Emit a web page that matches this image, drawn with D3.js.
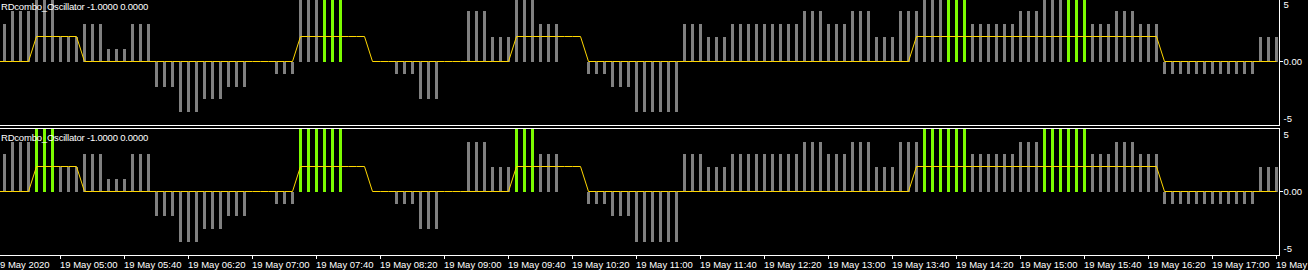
<!DOCTYPE html>
<html>
<head>
<meta charset="utf-8">
<script src="https://cdn.jsdelivr.net/npm/d3@7"></script>
<style>
  html, body { margin: 0; padding: 0; background: #000; overflow: hidden; }
  svg { display: block; }
  text { font-family: "Liberation Sans", Arial, sans-serif; fill: #ffffff; }
</style>
</head>
<body>
<svg id="chart" width="1308" height="270"></svg>
<script>
// ---------------- DATA ----------------
const indicatorName = "RDcombo_Oscillator -1.0000 0.0000";

// histogram value of each 5-minute bar (same in both windows)
const histValues = [
  3, 4, 4, 4, 5, 5, 5, 2, 2, 2,
  3, 3, 3, 1, 1, 1, 3, 3, 3, -2,
  -2, -2, -4, -4, -4, -3, -3, -3, -2, -2,
  -2, 0, 0, 0, -1, -1, -1, 5, 5, 5,
  5, 5, 5, 0, 0, 0, 0, 0, 0, -1,
  -1, -1, -3, -3, -3, 0, 0, 0, 4, 4,
  4, 2, 2, 2, 5, 5, 5, 3, 3, 3,
  0, 0, 0, -1, -1, -1, -2, -2, -2, -4,
  -4, -4, -4, -4, -4, 3, 3, 3, 2, 2,
  2, 3, 3, 3, 3, 3, 3, 3, 3, 3,
  4, 4, 4, 3, 3, 3, 4, 4, 4, 2,
  2, 2, 4, 4, 4, 5, 5, 5, 5, 5,
  5, 3, 3, 3, 3, 3, 3, 4, 4, 4,
  5, 5, 5, 5, 5, 5, 3, 3, 3, 4,
  4, 4, 3, 3, 3, -1, -1, -1, -1, -1,
  -1, -1, -1, -1, -1, -1, -1, 2, 2, 2
];

// yellow signal line value of each bar
const signalValues = [
  0, 0, 0, 0, 2, 2, 2, 2, 2, 2,
  0, 0, 0, 0, 0, 0, 0, 0, 0, 0,
  0, 0, 0, 0, 0, 0, 0, 0, 0, 0,
  0, 0, 0, 0, 0, 0, 0, 2, 2, 2,
  2, 2, 2, 2, 2, 2, 0, 0, 0, 0,
  0, 0, 0, 0, 0, 0, 0, 0, 0, 0,
  0, 0, 0, 0, 2, 2, 2, 2, 2, 2,
  2, 2, 2, 0, 0, 0, 0, 0, 0, 0,
  0, 0, 0, 0, 0, 0, 0, 0, 0, 0,
  0, 0, 0, 0, 0, 0, 0, 0, 0, 0,
  0, 0, 0, 0, 0, 0, 0, 0, 0, 0,
  0, 0, 0, 0, 2, 2, 2, 2, 2, 2,
  2, 2, 2, 2, 2, 2, 2, 2, 2, 2,
  2, 2, 2, 2, 2, 2, 2, 2, 2, 2,
  2, 2, 2, 2, 2, 0, 0, 0, 0, 0,
  0, 0, 0, 0, 0, 0, 0, 0, 0, 0
];

// bars drawn in green in each window
const topGreenBars = [40, 41, 42, 118, 119, 120, 133, 134, 135];
const bottomGreenBars = [4, 5, 6, 37, 38, 39, 40, 41, 42, 64, 65, 66,
  115, 116, 117, 118, 119, 120, 130, 131, 132, 133, 134, 135];

// y scale labels
const yTickValues = [5, 0, -5];
const yTickLabels = ["5", "0.00", "-5"];

// time axis: first (date) label as visible at the left edge, then one label every 8 bars from bar 7
const firstTimeLabel = "9 May 2020";
const timeTickBars = [7, 15, 23, 31, 39, 47, 55, 63, 71, 79, 87, 95, 103, 111, 119, 127, 135, 143, 151, 159];
const timeTickLabels = ["19 May 05:00", "19 May 05:40", "19 May 06:20", "19 May 07:00", "19 May 07:40",
  "19 May 08:20", "19 May 09:00", "19 May 09:40", "19 May 10:20", "19 May 11:00",
  "19 May 11:40", "19 May 12:20", "19 May 13:00", "19 May 13:40", "19 May 14:20",
  "19 May 15:00", "19 May 15:40", "19 May 16:20", "19 May 17:00", "19 May"];

// ---------------- LAYOUT ----------------
const W = 1308, H = 270;
const plotRight = 1280;
const GRAY = "#808080", GREEN = "#7cfc00", GOLD = "#ffd700";

const svg = d3.select("#chart");
svg.append("rect").attr("width", W).attr("height", H).attr("fill", "#000");

const x = d3.scaleBand()
  .domain(d3.range(histValues.length))
  .range([0.5, plotRight + 0.5])
  .paddingInner(0.625)
  .paddingOuter(0.3125);
const xCenter = i => x(0) + x.bandwidth() / 2 + i * x.step();

const panels = [
  { clipTop: 0, clipBottom: 125, range: [124, -1], green: topGreenBars, titleY: 10 },
  { clipTop: 128.5, clipBottom: 255, range: [254, 129], green: bottomGreenBars, titleY: 140.5 }
];

panels.forEach((p, pi) => {
  const y = d3.scaleLinear().domain([-5, 5]).range(p.range);
  const greenSet = new Set(p.green);

  const clipId = "clip" + pi;
  svg.append("clipPath").attr("id", clipId)
    .append("rect").attr("x", 0).attr("y", p.clipTop)
    .attr("width", plotRight).attr("height", p.clipBottom - p.clipTop);

  const g = svg.append("g").attr("clip-path", `url(#${clipId})`);
  const y0 = Math.round(y(0));

  g.selectAll("rect.bar")
    .data(histValues.map((v, i) => ({ v, i })).filter(d => d.v !== 0))
    .join("rect")
    .attr("class", "bar")
    .attr("x", d => x(d.i))
    .attr("width", x.bandwidth())
    .attr("y", d => Math.min(Math.round(y(d.v)), y0))
    .attr("height", d => Math.abs(y0 - Math.round(y(d.v))))
    .attr("fill", d => greenSet.has(d.i) ? GREEN : GRAY);

  const linePts = signalValues.map((v, i) => [xCenter(i), y(v)]);
  linePts.unshift([0, y(signalValues[0])]);
  g.append("path")
    .attr("d", d3.line()(linePts))
    .attr("fill", "none")
    .attr("stroke", GOLD)
    .attr("stroke-width", 1);

  // window title
  svg.append("text")
    .attr("x", 1).attr("y", p.titleY)
    .attr("font-size", "9.5px")
    .attr("letter-spacing", "-0.2px")
    .text(indicatorName);

  // right-hand scale labels
  yTickValues.forEach((v, k) => {
    const off = v > 0 ? 5.5 : v < 0 ? -5.5 : 0;
    svg.append("text")
      .attr("x", plotRight + 3.5)
      .attr("y", y(v) + off)
      .attr("dy", "0.35em")
      .attr("font-size", "9.5px")
      .text(yTickLabels[k]);
  });
  svg.append("line")
    .attr("x1", plotRight).attr("x2", plotRight + 3)
    .attr("y1", y(0)).attr("y2", y(0))
    .attr("stroke", "#fff");
});

// frame lines
const frame = svg.append("g").attr("stroke", "#fff").attr("stroke-width", 1);
frame.append("line").attr("x1", 0).attr("x2", plotRight).attr("y1", 125.5).attr("y2", 125.5);
frame.append("line").attr("x1", 0).attr("x2", plotRight).attr("y1", 128.5).attr("y2", 128.5);
frame.append("line").attr("x1", 0).attr("x2", plotRight).attr("y1", 255.5).attr("y2", 255.5);
frame.append("line").attr("x1", plotRight - 0.5).attr("x2", plotRight - 0.5).attr("y1", 0).attr("y2", 125.5);
frame.append("line").attr("x1", plotRight - 0.5).attr("x2", plotRight - 0.5).attr("y1", 128.5).attr("y2", 255.5);

// time axis
const axisG = svg.append("g");
timeTickBars.forEach((b, k) => {
  const tx = xCenter(b);
  axisG.append("line")
    .attr("x1", tx).attr("x2", tx).attr("y1", 255).attr("y2", 259)
    .attr("stroke", "#fff");
  axisG.append("text")
    .attr("x", tx - 0.5).attr("y", 267.5)
    .attr("font-size", "9.5px")
    .text(timeTickLabels[k]);
});
axisG.append("text")
  .attr("x", 0).attr("y", 267.5)
  .attr("font-size", "9.5px")
  .text(firstTimeLabel);
</script>
</body>
</html>
